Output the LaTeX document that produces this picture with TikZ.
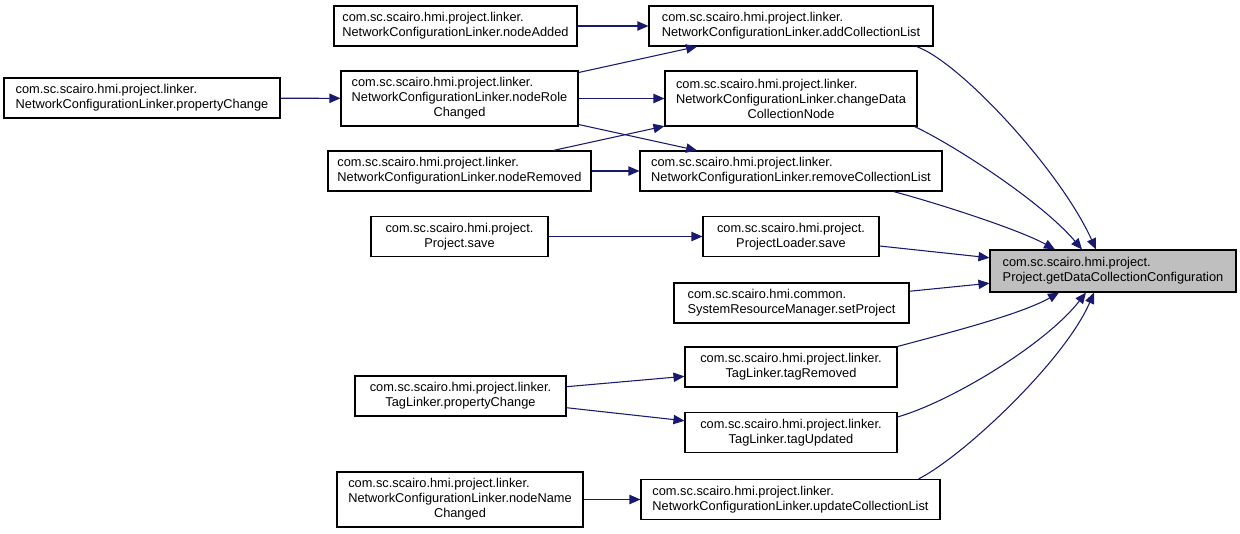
\documentclass[tikz,border=0pt]{standalone}
\usepackage{fontspec}
\setmainfont{Liberation Sans}
\usepackage{tikz}
\usetikzlibrary{arrows.meta,calc}

\definecolor{edgeblue}{RGB}{25,25,112}
\newcommand{\lastln}[1]{\hfill#1\hfill\mbox{}}

\tikzset{
  fn/.style={draw=black, line width=0.8pt, fill=white, align=left, inner sep=0pt,
             font=\fontsize{9.6}{11.25}\selectfont, minimum height=30pt},
  fnmain/.style={fn, fill=black!25, minimum height=31.5pt},
  call/.style={draw=edgeblue, line width=0.8pt, -{Triangle[length=8.25pt,width=7pt]}}
}

\begin{document}
\begin{tikzpicture}[x=0.75pt, y=-0.75pt]
                    \useasboundingbox (0,0) rectangle (1240,533);

                    % callers, left column
                    \node[fn, minimum width=207pt] (nclpc) at (142,98) {com.sc.scairo.hmi.project.linker.\\NetworkConfigurationLinker.propertyChange};

                    % callers, middle column
                    \node[fn, minimum width=182.25pt] (nadd) at (455.5,26) {com.sc.scairo.hmi.project.linker.\\NetworkConfigurationLinker.nodeAdded};
                    \node[fn, minimum width=177.75pt, minimum height=41.25pt] (nrc) at (459.5,98.5) {com.sc.scairo.hmi.project.linker.\\NetworkConfigurationLinker.nodeRole\\\lastln{Changed}};
                    \node[fn, minimum width=197.25pt] (nrem) at (459.5,171) {com.sc.scairo.hmi.project.linker.\\NetworkConfigurationLinker.nodeRemoved};
                    \node[fn, minimum width=132.75pt] (psave) at (459.5,236.5) {com.sc.scairo.hmi.project.\\\lastln{Project.save}};
                    \node[fn, minimum width=158.25pt] (tlpc) at (460.5,396) {com.sc.scairo.hmi.project.linker.\\\lastln{TagLinker.propertyChange}};
                    \node[fn, minimum width=184.5pt, minimum height=41.25pt] (nnc) at (460,499.5) {com.sc.scairo.hmi.project.linker.\\NetworkConfigurationLinker.nodeName\\\lastln{Changed}};

                    % direct callers
                    \node[fn, minimum width=213pt] (acl) at (791,26) {com.sc.scairo.hmi.project.linker.\\NetworkConfigurationLinker.addCollectionList};
                    \node[fn, minimum width=189pt, minimum height=41.25pt] (cdcn) at (791,98.5) {com.sc.scairo.hmi.project.linker.\\NetworkConfigurationLinker.changeData\\\lastln{CollectionNode}};
                    \node[fn, minimum width=226.5pt] (rcl) at (791,171) {com.sc.scairo.hmi.project.linker.\\NetworkConfigurationLinker.removeCollectionList};
                    \node[fn, minimum width=132pt] (pls) at (791,236.5) {com.sc.scairo.hmi.project.\\\lastln{ProjectLoader.save}};
                    \node[fn, minimum width=176.25pt] (setp) at (791.5,303) {com.sc.scairo.hmi.common.\\SystemResourceManager.setProject};
                    \node[fn, minimum width=159pt] (trem) at (791,367) {com.sc.scairo.hmi.project.linker.\\\lastln{TagLinker.tagRemoved}};
                    \node[fn, minimum width=159pt] (tupd) at (791,432.5) {com.sc.scairo.hmi.project.linker.\\\lastln{TagLinker.tagUpdated}};
                    \node[fn, minimum width=224.25pt] (ucl) at (790.5,499.5) {com.sc.scairo.hmi.project.linker.\\NetworkConfigurationLinker.updateCollectionList};

                    % the method itself
                    \node[fnmain, minimum width=184.5pt] (tgt) at (1113,271) {com.sc.scairo.hmi.project.\\Project.getDataCollectionConfiguration};

                    \draw[call] (nclpc) -- (nrc);
                    \draw[call] (nadd) -- (acl);
                    \draw[call] (nrc) -- (acl);
                    \draw[call] (nrc) -- (cdcn);
                    \draw[call] (nrc) -- (rcl);
                    \draw[call] (nrem) -- (cdcn);
                    \draw[call] (nrem) -- (rcl);
                    \draw[call] (psave) -- (pls);
                    \draw[call] (tlpc) -- (trem);
                    \draw[call] (tlpc) -- (tupd);
                    \draw[call] (nnc) -- (ucl);

                    \draw[call] ($(acl.south east)+(-17,0)$) .. controls (960,62) and (1060,170) .. ($(tgt.north)+(-17,0)$);
                    \draw[call] ($(cdcn.south east)+(-3,0)$) .. controls (950,143) and (1040,200) .. ($(tgt.north)+(-31,0)$);
                    \draw[call] ($(rcl.south east)+(-49,0)$) .. controls (940,204) and (1020,230) .. ($(tgt.north)+(-58,0)$);
                    \draw[call] (pls) -- (tgt);
                    \draw[call] (setp) -- (tgt);
                    \draw[call] (trem.north east) .. controls (940,335) and (1020,315) .. ($(tgt.south)+(-54,0)$);
                    \draw[call] ($(tupd.north east)+(0,5)$) .. controls (950,402) and (1045,345) .. ($(tgt.south)+(-27,0)$);
                    \draw[call] ($(ucl.north east)+(-22,0)$) .. controls (965,455) and (1065,360) .. ($(tgt.south)+(-19,0)$);
                \end{tikzpicture}
\end{document}
